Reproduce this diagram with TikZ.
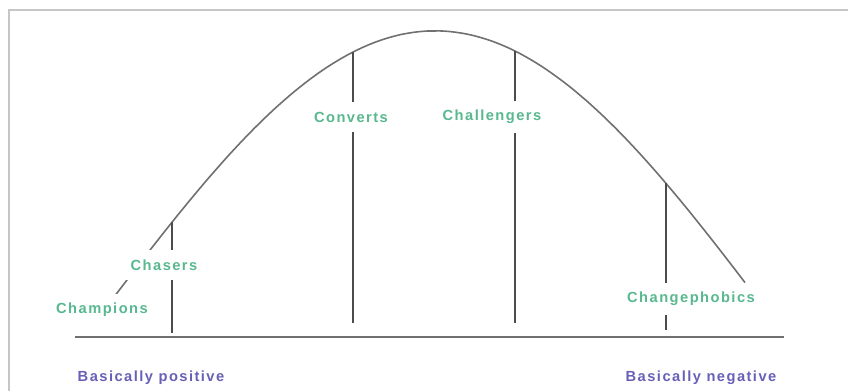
\documentclass[tikz,border=0pt]{standalone}
\usepackage{fontspec}
\setmainfont{Liberation Sans}
\definecolor{grn}{RGB}{88,184,142}
\definecolor{pur}{RGB}{104,96,182}
\definecolor{frm}{RGB}{198,198,198}
\definecolor{crv}{RGB}{112,112,112}
\pgfmathdeclarefunction{bell}{1}{\pgfmathparse{31+740*(1-exp(-0.5*((#1-435)/340)^2))}}

\begin{document}
\begin{tikzpicture}[x=0.75pt,y=-0.75pt,
    lbl/.style={fill=white,inner sep=7pt,text=grn,
        font=\bfseries\fontsize{11}{13}\selectfont\addfontfeature{LetterSpace=10}},
    axlbl/.style={inner sep=2pt,text=pur,
        font=\bfseries\fontsize{11}{13}\selectfont\addfontfeature{LetterSpace=10}}]
    \clip (0,0) rectangle (848,390);
    \draw[frm,line width=1.5pt] (9,10) rectangle (900,450);
    %
    \coordinate (T1) at (172,{bell(172)});
    \coordinate (T2) at (353,{bell(353)});
    \coordinate (T3) at (515,{bell(515)});
    \coordinate (T4) at (666,{bell(666)});
    \coordinate (B1) at (172,333);
    \coordinate (B2) at (353,323);
    \coordinate (B3) at (515,323);
    \coordinate (B4) at (666,330);
    \coordinate (L) at (75,337);
    \coordinate (R) at (784,337);
    %
    \draw[crv,line width=1.2pt] plot[domain=95:745,samples=120,smooth] (\x,{bell(\x)});
    \begin{scope}[black!70,line width=1.1pt]
        \draw (T1) -- (B1);
        \draw (T2) -- (B2);
        \draw (T3) -- (B3);
        \draw (T4) -- (B4);
    \end{scope}
    \draw[crv,line width=1.5pt] (L) -- (R);
    %
    \node[lbl] (champ) at (102,310) {Champions};
    \node[lbl] (chase) at (164,265) {Chasers};
    \node[lbl] (conv) at (351,117) {Converts};
    \node[lbl] (chall) at (492,117) {Challengers};
    \node[lbl] (phob) at (691,299) {Changephobics};
    %
    \node[axlbl] (pos) at (151,378) {Basically positive};
    \node[axlbl] (neg) at (701,378) {Basically negative};
    %
\end{tikzpicture}
\end{document}
